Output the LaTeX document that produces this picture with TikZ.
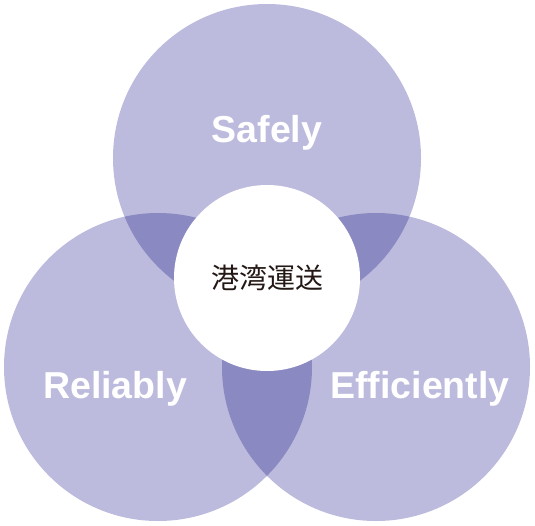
\documentclass[tikz,border=0pt]{standalone}
\usepackage{fontspec}
\setmainfont{Liberation Sans}
\newfontfamily\cjkfont{Noto Sans CJK JP}
\definecolor{lightv}{RGB}{188,187,221}
\definecolor{darkv}{RGB}{138,137,194}
\definecolor{inktext}{RGB}{35,24,21}
\begin{document}
\begin{tikzpicture}[x=1pt,y=-1pt,
  ringlabel/.style={text=white,font=\fontsize{37.5}{42}\selectfont\bfseries,inner sep=0pt,anchor=base},
  corelabel/.style={text=inktext,font=\cjkfont\fontsize{28}{32}\selectfont,inner sep=0pt,anchor=base}]
\useasboundingbox (0,0) rectangle (535,525);
\coordinate (ct) at (267,158);
\coordinate (cl) at (158,367);
\coordinate (cr) at (376,367);
\def\R{154}
\fill[lightv] (ct) circle[radius=\R];
\fill[lightv] (cl) circle[radius=\R];
\fill[lightv] (cr) circle[radius=\R];
\begin{scope}
  \clip (ct) circle[radius=\R];
  \fill[darkv] (cl) circle[radius=\R];
  \fill[darkv] (cr) circle[radius=\R];
\end{scope}
\begin{scope}
  \clip (cl) circle[radius=\R];
  \fill[darkv] (cr) circle[radius=\R];
\end{scope}
\fill[white] (267,278) circle[radius=93];
\node[ringlabel] (safe) at (267,142) {Safely};
\node[ringlabel] (rel) at (115,398) {Reliably};
\node[ringlabel] (eff) at (420,398) {Efficiently};
\node[corelabel] (core) at (267,288) {港湾運送};
\end{tikzpicture}
\end{document}
